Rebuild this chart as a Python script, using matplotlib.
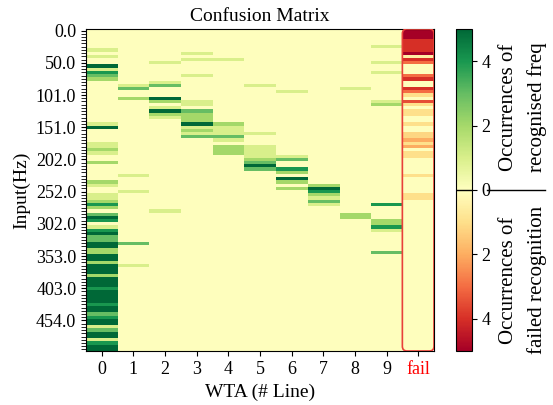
import numpy as np
import matplotlib
matplotlib.use("Agg")
import matplotlib.pyplot as plt
import matplotlib.transforms as mtransforms
from matplotlib.colors import Normalize
from matplotlib.patches import FancyBboxPatch
from matplotlib.lines import Line2D

plt.rcParams['font.family'] = ['Liberation Serif', 'DejaVu Serif']

n_rows = 100
columns = ['0', '1', '2', '3', '4', '5', '6', '7', '8', '9', 'fail']
freq_labels = [0.0, 50.0, 101.0, 151.0, 202.0, 252.0, 302.0, 353.0, 403.0, 454.0]

# occurrences per input row (row index -> count), one dict per WTA line
line0 = {6: 1, 8: 1, 11: 5, 12: 1, 13: 4, 14: 3, 15: 2, 29: 1, 30: 5, 35: 1, 36: 1,
         37: 2, 38: 1, 41: 2, 47: 2, 48: 1, 51: 1, 52: 1, 53: 2, 54: 4, 55: 2,
         57: 3, 58: 5, 59: 4, 61: 1, 62: 4, 63: 5, 64: 3, 65: 3, 66: 5, 67: 5,
         68: 2, 69: 2, 70: 5, 71: 5, 72: 2, 73: 5, 74: 5, 75: 5, 76: 2, 77: 5,
         78: 5, 79: 5, 80: 4, 81: 5, 82: 5, 83: 5, 84: 5, 85: 4, 86: 5, 87: 5,
         88: 3, 89: 4, 90: 5, 91: 5, 92: 1, 93: 3, 94: 5, 95: 5, 96: 1, 97: 4,
         98: 5, 99: 5}
line1 = {17: 1, 18: 3, 21: 2, 45: 1, 50: 1, 66: 3, 73: 1}
line2 = {10: 1, 16: 1, 17: 3, 21: 5, 22: 2, 24: 1, 25: 5, 26: 2, 27: 1, 56: 1}
line3 = {7: 1, 9: 1, 14: 1, 22: 1, 23: 1, 25: 3, 26: 2, 27: 2, 28: 2, 29: 5,
         30: 1, 31: 2, 32: 1, 33: 3}
line4 = {9: 1, 29: 2, 30: 1, 31: 1, 32: 1, 33: 3, 34: 1, 36: 2, 37: 2, 38: 2}
line5 = {17: 1, 32: 1, 36: 1, 37: 1, 38: 1, 39: 1, 40: 2, 41: 3, 42: 5, 43: 3}
line6 = {19: 1, 39: 1, 40: 3, 43: 4, 44: 2, 46: 5, 47: 2, 49: 2}
line7 = {48: 2, 49: 5, 50: 4, 51: 2, 52: 1, 53: 3, 54: 1}
line8 = {18: 1, 57: 2, 58: 2}
line9 = {5: 1, 10: 1, 13: 1, 22: 1, 23: 2, 54: 4, 59: 2, 60: 2, 61: 4, 62: 1, 69: 3}
# failed recognitions, stored negative so they use the red half of the map
fail = {0: -5, 1: -5, 2: -5, 3: -4, 4: -4, 5: -4, 6: -4, 7: -5, 8: -0.5, 9: -4,
        10: -3, 14: -3, 15: -4, 18: -4, 19: -3, 20: -1, 22: -3.5, 23: -1, 25: -1,
        26: -1, 29: -1, 32: -1.2, 33: -1.2, 34: -2, 35: -1, 36: -2, 38: -1, 39: -1,
        45: -1, 51: -1, 52: -1}

counts = np.zeros((n_rows, len(columns)))
for j, col in enumerate([line0, line1, line2, line3, line4, line5, line6,
                         line7, line8, line9, fail]):
    for r, v in col.items():
        counts[r, j] = v

W, H = 553, 405
fig = plt.figure(figsize=(W / 100, H / 100), dpi=100)
ax = fig.add_axes([86 / W, 1 - 351 / H, 348 / W, 322 / H])

norm = Normalize(-5, 5)
cmap = plt.get_cmap('RdYlGn')
im = ax.imshow(counts[:, :10], cmap=cmap, norm=norm, aspect='auto',
               interpolation='nearest', extent=(-0.5, 9.5, n_rows - 0.5, -0.5))

box = FancyBboxPatch((9.5, -0.5), 1, n_rows,
                     boxstyle='round,pad=0,rounding_size=0.15',
                     mutation_aspect=9.8, fc='none', ec='#e8403a', lw=1.2, zorder=3)
ax.add_patch(box)
im_fail = ax.imshow(counts[:, 10:], cmap=cmap, norm=norm, aspect='auto',
                    interpolation='nearest', extent=(9.5, 10.5, n_rows - 0.5, -0.5))
im_fail.set_clip_path(box)

ax.set_xlim(-0.5, 10.5)
ax.set_ylim(n_rows - 0.5, -0.5)

ax.set_xticks(range(len(columns)))
ax.set_xticklabels(columns)
ax.get_xticklabels()[-1].set_color('red')
ax.set_yticks(np.arange(0, n_rows, 10)[:len(freq_labels)])
ax.set_yticklabels([f'{f:.1f}' for f in freq_labels])
ax.set_yticks(np.arange(n_rows), minor=True)
ax.tick_params(labelsize=13)
ax.tick_params(axis='y', which='minor', length=3.5)

ax.set_title('Confusion Matrix', fontsize=14)
ax.set_xlabel('WTA (# Line)', fontsize=14)
ax.set_ylabel('Input(Hz)', fontsize=14)

cax = fig.add_axes([456 / W, 1 - 351 / H, 16 / W, 322 / H])
cb = fig.colorbar(im, cax=cax)
cb.set_ticks([-4, -2, 0, 2, 4])
cb.set_ticklabels(['4', '2', '0', '2', '4'])
cax.tick_params(labelsize=13)
cax.axhline(0, color='k', lw=1)
tr = mtransforms.blended_transform_factory(fig.transFigure, cax.transData)
fig.add_artist(Line2D([487 / W, 545 / W], [0, 0], transform=tr, color='k', lw=1))

fig.text(523 / W, 1 - 107 / H, 'Occurrences of\nrecognised freq', rotation=90,
         ha='center', va='center', fontsize=15, linespacing=1.6)
fig.text(523 / W, 1 - 280 / H, 'Occurrences of\nfailed recognition', rotation=90,
         ha='center', va='center', fontsize=15, linespacing=1.6)

fig.savefig('out.png', dpi=100)
